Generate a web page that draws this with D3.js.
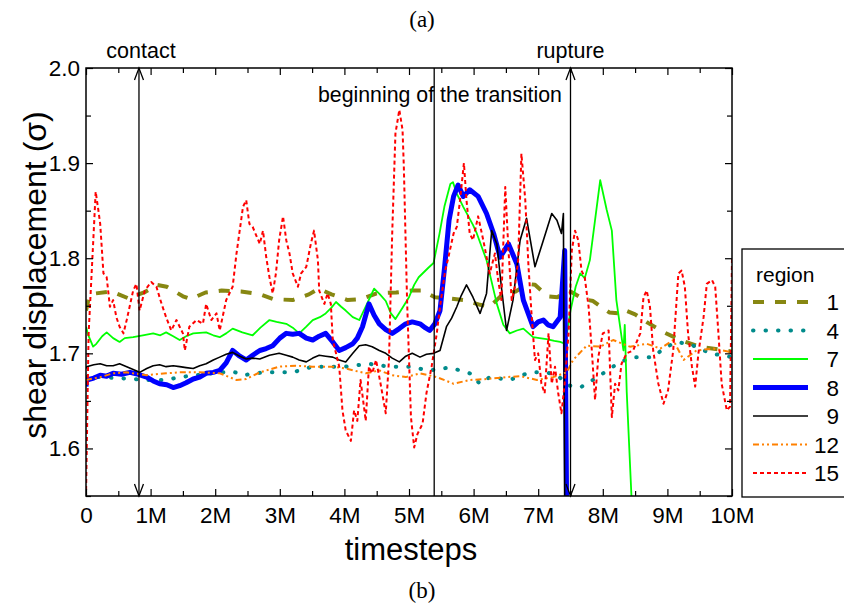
<!DOCTYPE html>
<html lang="en">

<head>
    <meta charset="UTF-8">
    <meta name="viewport" content="width=device-width, initial-scale=1.0">
    <title>shear displacement</title>
    <script src="https://cdn.jsdelivr.net/npm/d3@7"></script>
    <style>
        body {
            margin: 0;
            background: #fff;
        }

        svg {
            display: block;
            font-family: "Liberation Sans", Arial, sans-serif;
        }
    </style>
</head>

<body>
    <div id="chart"></div>

    <script>
        // timesteps in millions, displacement in sigma
        const xTicks = [0, 1, 2, 3, 4, 5, 6, 7, 8, 9, 10]
        const xTickLabels = ['0', '1M', '2M', '3M', '4M', '5M', '6M', '7M', '8M', '9M', '10M']
        const yTicks = [1.6, 1.7, 1.8, 1.9, 2.0]
        const yTickLabels = ['1.6', '1.7', '1.8', '1.9', '2.0']
        const regionNames = ['1', '4', '7', '8', '9', '12', '15']

        const region1 = [[0, 1.745], [0.05, 1.76], [0.15, 1.763], [0.4, 1.765], [0.65, 1.758], [0.9, 1.764],
            [1.1, 1.772], [1.25, 1.77], [1.5, 1.76], [1.62, 1.757], [1.85, 1.764], [2.1, 1.766], [2.4, 1.765],
            [2.7, 1.762], [2.9, 1.757], [3.2, 1.756], [3.45, 1.762], [3.6, 1.768], [3.8, 1.762], [4.05, 1.756],
            [4.25, 1.757], [4.5, 1.763], [4.8, 1.764], [5.05, 1.766], [5.2, 1.766], [5.4, 1.759], [5.6, 1.758],
            [5.85, 1.756], [6.1, 1.751], [6.25, 1.749], [6.45, 1.762], [6.65, 1.765], [6.85, 1.773], [6.95, 1.772],
            [7.15, 1.76], [7.3, 1.759], [7.43, 1.766], [7.5, 1.765], [7.7, 1.757], [7.85, 1.755], [7.95, 1.75],
            [8.1, 1.743], [8.25, 1.742], [8.32, 1.746], [8.5, 1.741], [8.7, 1.732], [8.95, 1.722], [9.2, 1.714],
            [9.5, 1.707], [10, 1.702]]

        const region4 = [[0, 1.675], [0.22, 1.675], [0.73, 1.673], [0.94, 1.672], [1.24, 1.672], [1.45, 1.675],
            [1.96, 1.679], [2.27, 1.681], [2.43, 1.677], [2.74, 1.68], [2.99, 1.68], [3.2, 1.68], [3.51, 1.686],
            [4.02, 1.686], [4.38, 1.689], [4.69, 1.686], [5.0, 1.686], [5.31, 1.682], [5.62, 1.685], [5.69, 1.684],
            [5.94, 1.679], [6.1, 1.668], [6.25, 1.675], [6.56, 1.672], [6.87, 1.68], [7.13, 1.68], [7.29, 1.677],
            [7.49, 1.666], [7.65, 1.664], [7.8, 1.67], [7.96, 1.677], [8.27, 1.691], [8.47, 1.696], [8.78, 1.696],
            [8.94, 1.705], [9.14, 1.712], [9.3, 1.71], [9.45, 1.707], [9.66, 1.7], [10, 1.696]]

        const region7 = [[0, 1.728], [0.03, 1.72], [0.11, 1.707], [0.16, 1.71], [0.25, 1.718], [0.32, 1.722],
            [0.42, 1.716], [0.52, 1.712], [0.6, 1.716], [0.73, 1.717], [0.88, 1.719], [1.04, 1.721],
            [1.15, 1.719], [1.24, 1.722], [1.35, 1.718], [1.45, 1.714], [1.55, 1.718], [1.66, 1.721],
            [1.86, 1.722], [1.97, 1.719], [2.07, 1.717], [2.17, 1.721], [2.27, 1.726], [2.42, 1.722],
            [2.58, 1.719], [2.7, 1.727], [2.84, 1.735], [2.95, 1.733], [3.1, 1.731], [3.2, 1.727], [3.3, 1.721],
            [3.41, 1.728], [3.51, 1.735], [3.62, 1.738], [3.71, 1.742], [3.8, 1.748], [3.87, 1.754],
            [3.95, 1.749], [4.02, 1.745], [4.13, 1.738], [4.23, 1.735], [4.35, 1.752], [4.46, 1.768],
            [4.55, 1.762], [4.64, 1.755], [4.72, 1.742], [4.79, 1.736], [4.9, 1.748], [5.0, 1.759], [5.08, 1.772],
            [5.15, 1.78], [5.3, 1.79], [5.38, 1.795], [5.47, 1.825], [5.55, 1.855], [5.64, 1.878], [5.68, 1.88],
            [5.74, 1.868], [5.84, 1.854], [5.99, 1.835], [6.05, 1.826], [6.2, 1.798], [6.36, 1.752],
            [6.46, 1.73], [6.56, 1.721], [6.67, 1.724], [6.77, 1.726], [6.92, 1.717], [7.02, 1.716],
            [7.13, 1.715], [7.25, 1.713], [7.34, 1.712], [7.42, 1.71], [7.5, 1.745], [7.58, 1.77], [7.65, 1.784],
            [7.72, 1.779], [7.8, 1.798], [7.88, 1.84], [7.96, 1.882], [8.06, 1.851], [8.14, 1.829], [8.21, 1.756],
            [8.32, 1.703], [8.34, 1.73], [8.37, 1.66], [8.45, 1.54]]

        const region8 = [[0, 1.665], [0.01, 1.672], [0.12, 1.674], [0.22, 1.677], [0.32, 1.676], [0.42, 1.679],
            [0.55, 1.678], [0.68, 1.68], [0.81, 1.678], [0.94, 1.675], [1.04, 1.671], [1.14, 1.668],
            [1.25, 1.667], [1.35, 1.664], [1.45, 1.666], [1.55, 1.669], [1.66, 1.673], [1.76, 1.675],
            [1.86, 1.679], [1.97, 1.68], [2.07, 1.682], [2.17, 1.69], [2.27, 1.703], [2.38, 1.697],
            [2.48, 1.693], [2.58, 1.698], [2.69, 1.703], [2.79, 1.705], [2.89, 1.708], [3.0, 1.716],
            [3.1, 1.721], [3.2, 1.72], [3.3, 1.721], [3.41, 1.716], [3.51, 1.714], [3.61, 1.718], [3.71, 1.721],
            [3.82, 1.712], [3.92, 1.703], [4.02, 1.706], [4.13, 1.71], [4.2, 1.716], [4.28, 1.728],
            [4.38, 1.752], [4.46, 1.74], [4.54, 1.731], [4.64, 1.725], [4.74, 1.721], [4.85, 1.726],
            [4.95, 1.731], [5.05, 1.733], [5.17, 1.731], [5.25, 1.727], [5.32, 1.724], [5.4, 1.731],
            [5.48, 1.745], [5.55, 1.79], [5.62, 1.84], [5.69, 1.865], [5.76, 1.877], [5.84, 1.865],
            [5.94, 1.872], [6.07, 1.865], [6.2, 1.847], [6.31, 1.826], [6.41, 1.801], [6.54, 1.815],
            [6.67, 1.794], [6.77, 1.756], [6.92, 1.728], [7.0, 1.733], [7.08, 1.735], [7.15, 1.73],
            [7.23, 1.728], [7.34, 1.738], [7.41, 1.808], [7.44, 1.54]]

        const region9 = [[0, 1.684], [0.01, 1.686], [0.12, 1.688], [0.22, 1.689], [0.32, 1.687], [0.42, 1.687],
            [0.52, 1.689], [0.63, 1.686], [0.73, 1.683], [0.83, 1.68], [0.94, 1.684], [1.04, 1.687],
            [1.14, 1.688], [1.24, 1.686], [1.35, 1.687], [1.45, 1.686], [1.55, 1.685], [1.66, 1.684],
            [1.76, 1.687], [1.86, 1.689], [1.97, 1.693], [2.07, 1.696], [2.17, 1.699], [2.27, 1.701],
            [2.38, 1.697], [2.48, 1.694], [2.58, 1.695], [2.69, 1.694], [2.84, 1.698], [2.99, 1.7], [3.1, 1.698],
            [3.2, 1.696], [3.3, 1.693], [3.41, 1.691], [3.51, 1.695], [3.61, 1.698], [3.71, 1.697],
            [3.82, 1.696], [3.92, 1.693], [4.02, 1.691], [4.13, 1.7], [4.23, 1.708], [4.33, 1.709],
            [4.43, 1.707], [4.54, 1.703], [4.64, 1.7], [4.74, 1.695], [4.85, 1.691], [4.95, 1.697], [5.05, 1.7],
            [5.17, 1.696], [5.27, 1.699], [5.38, 1.7], [5.48, 1.703], [5.58, 1.728], [5.66, 1.737],
            [5.74, 1.749], [5.81, 1.761], [5.89, 1.772], [5.99, 1.759], [6.1, 1.742], [6.2, 1.763],
            [6.28, 1.829], [6.36, 1.815], [6.43, 1.77], [6.51, 1.724], [6.61, 1.756], [6.72, 1.819],
            [6.82, 1.842], [6.95, 1.791], [7.08, 1.819], [7.21, 1.847], [7.29, 1.84], [7.36, 1.826],
            [7.39, 1.847], [7.41, 1.54]]

        const region12 = [[0, 1.672], [0.22, 1.675], [0.42, 1.679], [0.63, 1.68], [0.94, 1.677], [1.24, 1.679],
            [1.45, 1.68], [1.76, 1.68], [2.07, 1.679], [2.33, 1.672], [2.48, 1.673], [2.69, 1.68], [2.99, 1.686],
            [3.25, 1.687], [3.51, 1.686], [3.82, 1.686], [4.02, 1.684], [4.33, 1.679], [4.54, 1.682],
            [4.74, 1.677], [4.95, 1.675], [5.17, 1.679], [5.43, 1.675], [5.69, 1.668], [5.94, 1.672],
            [6.2, 1.673], [6.51, 1.675], [6.72, 1.676], [6.98, 1.672], [7.23, 1.675], [7.44, 1.68], [7.54, 1.693],
            [7.75, 1.708], [7.96, 1.707], [8.16, 1.714], [8.42, 1.707], [8.68, 1.71], [8.89, 1.705],
            [9.09, 1.714], [9.25, 1.693], [9.45, 1.703], [9.71, 1.705], [10, 1.701]]

        const region15 = [[0, 1.549], [0.04, 1.72], [0.11, 1.815], [0.15, 1.87], [0.19, 1.851], [0.22, 1.836],
            [0.27, 1.784], [0.32, 1.78], [0.37, 1.749], [0.42, 1.756], [0.47, 1.738], [0.52, 1.728], [0.58, 1.721],
            [0.63, 1.735], [0.73, 1.766], [0.78, 1.773], [0.83, 1.745], [0.91, 1.766], [1.01, 1.775], [1.09, 1.77],
            [1.17, 1.752], [1.24, 1.738], [1.32, 1.724], [1.4, 1.735], [1.5, 1.721], [1.53, 1.703], [1.6, 1.728],
            [1.71, 1.735], [1.81, 1.731], [1.86, 1.752], [1.94, 1.735], [2.02, 1.742], [2.07, 1.724],
            [2.17, 1.756], [2.27, 1.77], [2.33, 1.805], [2.43, 1.854], [2.48, 1.861], [2.53, 1.836], [2.58, 1.833],
            [2.69, 1.815], [2.74, 1.829], [2.79, 1.801], [2.84, 1.78], [2.89, 1.763], [2.94, 1.784], [2.99, 1.819],
            [3.05, 1.844], [3.1, 1.819], [3.15, 1.805], [3.2, 1.784], [3.28, 1.77], [3.33, 1.784], [3.41, 1.791],
            [3.48, 1.815], [3.53, 1.829], [3.59, 1.798], [3.61, 1.766], [3.69, 1.752], [3.74, 1.763],
            [3.79, 1.752], [3.82, 1.714], [3.87, 1.7], [3.92, 1.686], [3.97, 1.64], [4.02, 1.619], [4.1, 1.608],
            [4.15, 1.64], [4.2, 1.629], [4.25, 1.672], [4.33, 1.629], [4.38, 1.686], [4.43, 1.679], [4.49, 1.693],
            [4.56, 1.668], [4.64, 1.637], [4.69, 1.693], [4.74, 1.826], [4.79, 1.931], [4.85, 1.956],
            [4.9, 1.935], [4.92, 1.896], [4.97, 1.756], [5.03, 1.633], [5.08, 1.601], [5.13, 1.615], [5.21, 1.626],
            [5.27, 1.658], [5.35, 1.686], [5.43, 1.721], [5.48, 1.749], [5.56, 1.787], [5.61, 1.801],
            [5.69, 1.826], [5.74, 1.833], [5.79, 1.861], [5.85, 1.9], [5.89, 1.861], [5.94, 1.826], [5.99, 1.819],
            [6.07, 1.844], [6.15, 1.819], [6.25, 1.784], [6.33, 1.805], [6.38, 1.777], [6.43, 1.756],
            [6.49, 1.875], [6.54, 1.808], [6.59, 1.756], [6.64, 1.77], [6.69, 1.798], [6.74, 1.91], [6.8, 1.861],
            [6.85, 1.791], [6.9, 1.738], [6.95, 1.693], [7.0, 1.7], [7.05, 1.668], [7.1, 1.658], [7.16, 1.721],
            [7.21, 1.668], [7.26, 1.686], [7.31, 1.658], [7.36, 1.637], [7.41, 1.668], [7.47, 1.721],
            [7.52, 1.808], [7.57, 1.829], [7.62, 1.819], [7.67, 1.787], [7.72, 1.78], [7.78, 1.749], [7.83, 1.703],
            [7.88, 1.651], [7.93, 1.696], [8.0, 1.721], [8.09, 1.724], [8.14, 1.633], [8.19, 1.668], [8.24, 1.661],
            [8.29, 1.689], [8.37, 1.7], [8.47, 1.703], [8.58, 1.721], [8.63, 1.759], [8.68, 1.766], [8.73, 1.749],
            [8.78, 1.703], [8.86, 1.668], [8.94, 1.647], [9.01, 1.661], [9.09, 1.703], [9.17, 1.784],
            [9.22, 1.787], [9.27, 1.77], [9.32, 1.721], [9.38, 1.686], [9.43, 1.665], [9.48, 1.7], [9.56, 1.738],
            [9.61, 1.773], [9.69, 1.777], [9.74, 1.77], [9.79, 1.721], [9.84, 1.668], [9.92, 1.64], [9.97, 1.644],
            [10, 1.8]]

        const seriesData = [region1, region4, region7, region8, region9, region12, region15]

        // marked events (timesteps in millions)
        const eventNames = ['contact', 'beginning of the transition', 'rupture']
        const eventTimes = [0.82, 5.39, 7.5]

        // drawing styles, one per region
        const lineStyles = [
            { color: '#878712', width: 4, dash: '11,11' },
            { color: '#008b8b', width: 4, dash: '0.5,12' },
            { color: '#00ff00', width: 1.8, dash: null },
            { color: '#0000ff', width: 5, dash: null },
            { color: '#000000', width: 1.6, dash: null },
            { color: '#ff8000', width: 2, dash: '6,3,2,3,2,3' },
            { color: '#ff0000', width: 2, dash: '4,3' }
        ]

        const W = 844,
            H = 606
        const plot = { left: 86, right: 732, top: 68, bottom: 496 }

        const svg = d3.select('#chart').append('svg')
            .attr('width', W)
            .attr('height', H)

        const x = d3.scaleLinear().domain([0, 10]).range([plot.left, plot.right])
        const y = d3.scaleLinear().domain([1.55, 2.0]).range([plot.bottom, plot.top])

        svg.append('defs').append('clipPath').attr('id', 'plotClip')
            .append('rect')
            .attr('x', plot.left)
            .attr('y', plot.top)
            .attr('width', plot.right - plot.left)
            .attr('height', plot.bottom - plot.top)

        // series
        const line = d3.line().x(d => x(d[0])).y(d => y(d[1]))
        const gLines = svg.append('g').attr('clip-path', 'url(#plotClip)')
        seriesData.forEach((data, i) => {
            const st = lineStyles[i]
            gLines.append('path')
                .attr('d', line(data))
                .attr('fill', 'none')
                .attr('stroke', st.color)
                .attr('stroke-width', st.width)
                .attr('stroke-linejoin', 'round')
                .attr('stroke-linecap', i === 1 ? 'round' : 'butt')
                .attr('stroke-dasharray', st.dash)
        })

        // axes: major + minor ticks pointing inward on all four sides
        const minorX = d3.range(0.5, 10, 1)
        const minorY = [1.55, 1.65, 1.75, 1.85, 1.95]

        const xAxis = d3.axisBottom(x).tickValues(xTicks).tickSize(-7).tickPadding(11)
            .tickFormat((d, i) => xTickLabels[i])
        const gx = svg.append('g').attr('transform', `translate(0,${plot.bottom})`).call(xAxis)
        svg.append('g').attr('transform', `translate(0,${plot.bottom})`)
            .call(d3.axisBottom(x).tickValues(minorX).tickSize(-5).tickFormat(''))
        svg.append('g').attr('transform', `translate(0,${plot.top})`)
            .call(d3.axisTop(x).tickValues(xTicks).tickSize(-7).tickFormat(''))
        svg.append('g').attr('transform', `translate(0,${plot.top})`)
            .call(d3.axisTop(x).tickValues(minorX).tickSize(-5).tickFormat(''))

        const yAxis = d3.axisLeft(y).tickValues(yTicks).tickSize(-7).tickPadding(6)
            .tickFormat((d, i) => yTickLabels[i])
        const gy = svg.append('g').attr('transform', `translate(${plot.left},0)`).call(yAxis)
        svg.append('g').attr('transform', `translate(${plot.left},0)`)
            .call(d3.axisLeft(y).tickValues(minorY).tickSize(-5).tickFormat(''))
        svg.append('g').attr('transform', `translate(${plot.right},0)`)
            .call(d3.axisRight(y).tickValues(yTicks).tickSize(-7).tickFormat(''))
        svg.append('g').attr('transform', `translate(${plot.right},0)`)
            .call(d3.axisRight(y).tickValues(minorY).tickSize(-5).tickFormat(''))

        svg.selectAll('.domain').remove()
        svg.selectAll('.tick line').attr('stroke', '#000').attr('stroke-width', 1.2)
        gx.selectAll('text').attr('font-size', 22.5).attr('fill', '#000')
            .attr('font-family', '"Liberation Sans", Arial, sans-serif')
        gy.selectAll('text').attr('font-size', 22.5).attr('fill', '#000')
            .attr('font-family', '"Liberation Sans", Arial, sans-serif')

        svg.append('rect')
            .attr('x', plot.left)
            .attr('y', plot.top)
            .attr('width', plot.right - plot.left)
            .attr('height', plot.bottom - plot.top)
            .attr('fill', 'none')
            .attr('stroke', '#000')
            .attr('stroke-width', 1.5)

        // event markers
        eventTimes.forEach((t, i) => {
            const ex = x(t)
            svg.append('line')
                .attr('x1', ex).attr('x2', ex)
                .attr('y1', plot.top).attr('y2', plot.bottom)
                .attr('stroke', '#000')
                .attr('stroke-width', 1.3)
            if (i !== 1) {
                // open arrow heads at both ends
                svg.append('path')
                    .attr('d', `M ${ex - 4.5} ${plot.top + 12} L ${ex} ${plot.top} L ${ex + 4.5} ${plot.top + 12}` +
                        ` M ${ex - 4.5} ${plot.bottom - 12} L ${ex} ${plot.bottom} L ${ex + 4.5} ${plot.bottom - 12}`)
                    .attr('fill', 'none')
                    .attr('stroke', '#000')
                    .attr('stroke-width', 1.3)
            }
        })

        svg.append('text').text(eventNames[0])
            .attr('x', x(eventTimes[0]) + 2).attr('y', 58)
            .attr('text-anchor', 'middle').attr('font-size', 21.5)
        svg.append('text').text(eventNames[2])
            .attr('x', x(eventTimes[2])).attr('y', 58)
            .attr('text-anchor', 'middle').attr('font-size', 21.5)
        svg.append('text').text(eventNames[1])
            .attr('x', 318).attr('y', 102)
            .attr('font-size', 21.3)

        // axis titles
        svg.append('text').text('timesteps')
            .attr('x', (plot.left + plot.right) / 2 + 2).attr('y', 560)
            .attr('text-anchor', 'middle').attr('font-size', 31)
        svg.append('text').text('shear displacement (σ)')
            .attr('transform', 'translate(46,275) rotate(-90)')
            .attr('text-anchor', 'middle').attr('font-size', 32)

        // panel letters
        svg.append('text').text('(a)')
            .attr('x', 422).attr('y', 27)
            .attr('text-anchor', 'middle').attr('font-size', 23)
            .attr('font-family', '"Liberation Serif", "Times New Roman", serif')
        svg.append('text').text('(b)')
            .attr('x', 422).attr('y', 598)
            .attr('text-anchor', 'middle').attr('font-size', 23)
            .attr('font-family', '"Liberation Serif", "Times New Roman", serif')

        // legend
        const lg = svg.append('g')
        lg.append('rect')
            .attr('x', 742).attr('y', 249)
            .attr('width', 120).attr('height', 248)
            .attr('fill', '#fff')
            .attr('stroke', '#000')
            .attr('stroke-width', 1.3)
        lg.append('text').text('region')
            .attr('x', 756).attr('y', 282)
            .attr('font-size', 21)
        regionNames.forEach((name, i) => {
            const ly = 302 + i * 28.5
            const st = lineStyles[i]
            lg.append('line')
                .attr('x1', 753).attr('x2', 808)
                .attr('y1', ly).attr('y2', ly)
                .attr('stroke', st.color)
                .attr('stroke-width', st.width)
                .attr('stroke-linecap', i === 1 ? 'round' : 'butt')
                .attr('stroke-dasharray', st.dash)
            lg.append('text').text(name)
                .attr('x', 839).attr('y', ly + 8)
                .attr('text-anchor', 'end')
                .attr('font-size', 22.5)
        })
    </script>
</body>

</html>
